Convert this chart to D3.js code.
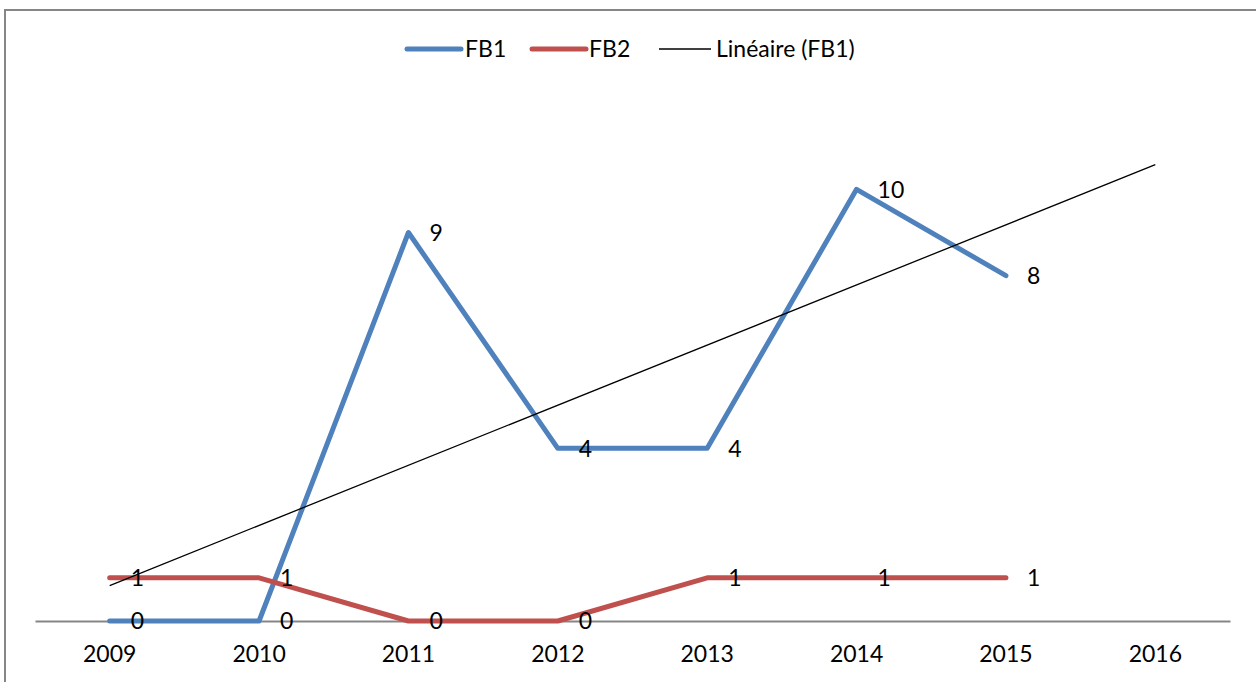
<!DOCTYPE html>
<html>
<head>
<meta charset="utf-8">
<script src="https://cdn.jsdelivr.net/npm/d3@7"></script>
<style>
  body { margin: 0; background: #fff; }
  text { font-family: Lato, "Liberation Sans", sans-serif; }
</style>
</head>
<body>
<script>
// Chart dimensions
const width = 1256;
const height = 682;
const fontSize = 23;

// Data
var years = ["2009", "2010", "2011", "2012", "2013", "2014", "2015", "2016"];
var fb1 = [0, 0, 9, 4, 4, 10, 8];
var fb2 = [1, 1, 0, 0, 1, 1, 1];
var seriesNames = ["FB1", "FB2", "Linéaire (FB1)"];
var colors = ["#4F81BD", "#C0504D", "#000000"];

var svg = d3.select("body")
    .append("svg")
    .attr("width", width)
    .attr("height", height);

// Chart border
svg.append("rect")
    .attr("x", 5)
    .attr("y", 10)
    .attr("width", width + 10)
    .attr("height", height + 10)
    .attr("fill", "none")
    .attr("stroke", "#868686")
    .attr("stroke-width", 2);

// Scales
var x_scale = d3.scaleBand()
    .domain(years)
    .range([35, 1230]);
var y_scale = d3.scaleLinear()
    .domain([0, 12])
    .range([621, 103]);

function cx(i) { return x_scale(years[i]) + x_scale.bandwidth() / 2; }

// X axis
var x_axis = d3.axisBottom(x_scale).tickSize(0).tickPadding(25);
var gx = svg.append("g")
    .attr("transform", `translate(0, ${y_scale(0)})`)
    .call(x_axis);
gx.select(".domain").attr("stroke", "#868686").attr("stroke-width", 2);
gx.selectAll("text")
    .attr("font-size", fontSize)
    .attr("fill", "#000")
    .style("font-family", "Lato, 'Liberation Sans', sans-serif");

// Linear trend of FB1 (least squares, extended one period)
var mx = d3.mean(fb1, (d, i) => i);
var my = d3.mean(fb1);
var slope = d3.sum(fb1, (d, i) => (i - mx) * (d - my)) / d3.sum(fb1, (d, i) => (i - mx) * (i - mx));
var intercept = my - slope * mx;
var trend = [0, years.length - 1].map(i => [i, intercept + slope * i]);

var line = d3.line()
    .x((d, i) => cx(i))
    .y(d => y_scale(d));

// Series lines
[fb1, fb2].forEach(function(s, k) {
    svg.append("path")
        .datum(s)
        .attr("d", line)
        .attr("fill", "none")
        .attr("stroke", colors[k])
        .attr("stroke-width", 5)
        .attr("stroke-linecap", "round")
        .attr("stroke-linejoin", "round");
});

// Trend line
svg.append("path")
    .datum(trend)
    .attr("d", d3.line().x(d => cx(d[0])).y(d => y_scale(d[1])))
    .attr("fill", "none")
    .attr("stroke", "#000")
    .attr("stroke-width", 1.3);

// Data labels (right of point)
[fb1, fb2].forEach(function(s) {
    svg.append("g").selectAll("text")
        .data(s)
        .join("text")
        .attr("x", (d, i) => cx(i) + 21)
        .attr("y", d => y_scale(d))
        .attr("dy", "0.36em")
        .attr("font-size", fontSize)
        .attr("fill", "#000")
        .text(d => d);
});

// Legend
var legendItems = [
    { x: 407, w: 54, tx: 465 },
    { x: 532, w: 54, tx: 589 },
    { x: 659, w: 52, tx: 716 }
];
var legend = svg.append("g");
legendItems.forEach(function(it, k) {
    legend.append("line")
        .attr("x1", it.x).attr("x2", it.x + it.w)
        .attr("y1", 49).attr("y2", 49)
        .attr("stroke", colors[k])
        .attr("stroke-width", k < 2 ? 5 : 1.3)
        .attr("stroke-linecap", k < 2 ? "round" : "butt");
    legend.append("text")
        .attr("x", it.tx)
        .attr("y", 49)
        .attr("dy", "0.36em")
        .attr("font-size", fontSize)
        .attr("fill", "#000")
        .text(seriesNames[k]);
});
</script>
</body>
</html>
